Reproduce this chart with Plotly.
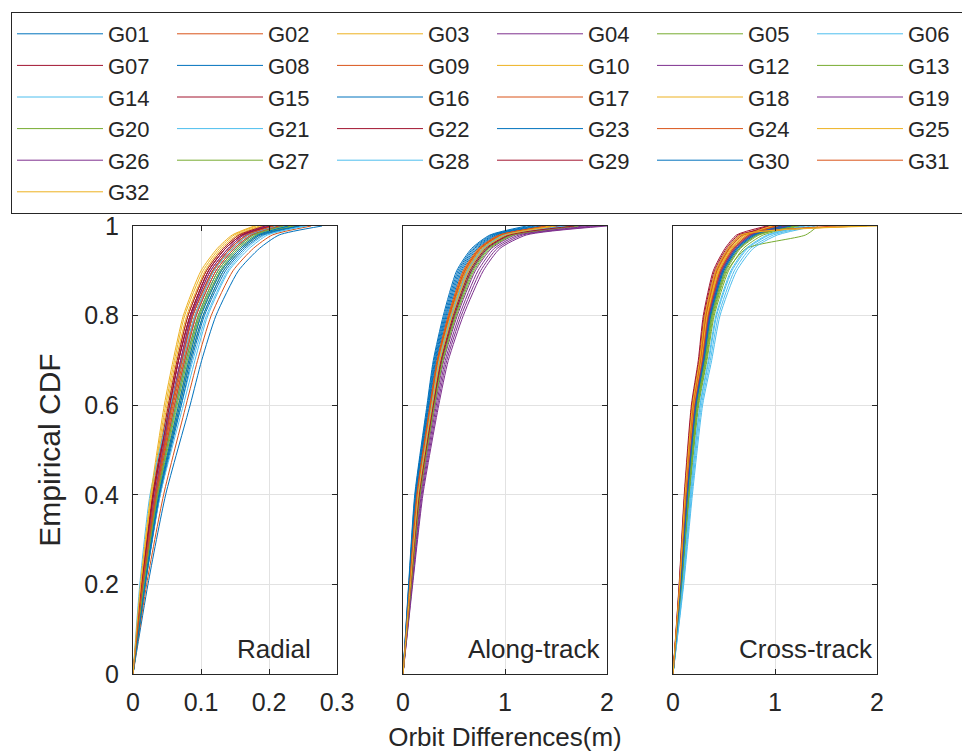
import plotly.graph_objects as go
from plotly.subplots import make_subplots

SATS = ["G01", "G02", "G03", "G04", "G05", "G06", "G07", "G08", "G09", "G10",
        "G12", "G13", "G14", "G15", "G16", "G17", "G18", "G19", "G20", "G21",
        "G22", "G23", "G24", "G25", "G26", "G27", "G28", "G29", "G30", "G31", "G32"]

CDF_LEVELS = [0, 0.2, 0.4, 0.6, 0.7, 0.8, 0.9, 0.95, 0.98, 1.0]

# Orbit difference (m) reached at each CDF level, one row per satellite
RADIAL_X = [
    [0, .022, .048, .084, .101, .122, .155, .186, .215, .278],  # G01
    [0, .020, .045, .078, .095, .115, .147, .177, .205, .262],  # G02
    [0, .015, .034, .059, .074, .091, .119, .146, .170, .224],  # G03
    [0, .013, .030, .054, .067, .084, .111, .136, .160, .196],  # G04
    [0, .017, .038, .067, .082, .100, .130, .158, .184, .241],  # G05
    [0, .016, .037, .071, .088, .108, .139, .167, .194, .256],  # G06
    [0, .014, .032, .056, .070, .086, .114, .140, .163, .205],  # G07
    [0, .016, .036, .063, .078, .096, .125, .152, .177, .230],  # G08
    [0, .014, .033, .057, .072, .088, .117, .143, .167, .212],  # G09
    [0, .013, .029, .052, .065, .081, .108, .133, .156, .190],  # G10
    [0, .015, .035, .061, .076, .093, .122, .149, .174, .219],  # G12
    [0, .018, .039, .069, .084, .103, .133, .161, .187, .236],  # G13
    [0, .014, .034, .064, .080, .098, .128, .155, .181, .226],  # G14
    [0, .013, .030, .054, .067, .084, .111, .136, .160, .201],  # G15
    [0, .018, .040, .071, .086, .105, .136, .164, .191, .247],  # G16
    [0, .015, .034, .059, .074, .091, .119, .146, .170, .208],  # G17
    [0, .012, .028, .050, .063, .079, .106, .130, .153, .186],  # G18
    [0, .014, .033, .057, .072, .088, .117, .143, .167, .215],  # G19
    [0, .017, .037, .065, .080, .098, .128, .155, .181, .232],  # G20
    [0, .017, .040, .074, .091, .110, .141, .171, .198, .252],  # G21
    [0, .013, .029, .052, .065, .081, .108, .133, .156, .194],  # G22
    [0, .017, .038, .067, .082, .100, .130, .158, .184, .228],  # G23
    [0, .015, .035, .061, .076, .093, .122, .149, .174, .214],  # G24
    [0, .012, .027, .048, .061, .076, .103, .127, .149, .181],  # G25
    [0, .014, .032, .056, .070, .086, .114, .140, .163, .199],  # G26
    [0, .016, .036, .063, .078, .096, .125, .152, .177, .221],  # G27
    [0, .010, .025, .055, .073, .091, .119, .146, .170, .210],  # G28
    [0, .013, .030, .054, .067, .084, .111, .136, .160, .203],  # G29
    [0, .018, .039, .069, .084, .103, .133, .161, .187, .244],  # G30
    [0, .014, .033, .057, .072, .088, .117, .143, .167, .207],  # G31
    [0, .011, .026, .046, .059, .074, .100, .124, .146, .178],  # G32
]

ALONG_X = [
    [0, .061, .127, .252, .319, .424, .565, .715, .907, 1.38],  # G01
    [0, .069, .143, .275, .348, .464, .617, .770, .978, 1.52],  # G02
    [0, .067, .139, .270, .341, .454, .604, .756, .960, 1.46],  # G03
    [0, .087, .179, .327, .415, .552, .735, .895, 1.139, 1.86],  # G04
    [0, .077, .159, .298, .378, .503, .670, .826, 1.049, 1.62],  # G05
    [0, .079, .163, .304, .385, .513, .683, .840, 1.067, 1.70],  # G06
    [0, .073, .151, .287, .363, .483, .643, .798, 1.014, 1.55],  # G07
    [0, .057, .119, .241, .304, .405, .539, .687, .871, 1.26],  # G08
    [0, .071, .147, .281, .356, .473, .630, .784, .996, 1.49],  # G09
    [0, .065, .135, .264, .334, .444, .591, .743, .942, 1.43],  # G10
    [0, .083, .171, .316, .400, .532, .709, .868, 1.103, 1.78],  # G12
    [0, .075, .155, .293, .371, .493, .657, .812, 1.032, 1.58],  # G13
    [0, .077, .159, .298, .378, .503, .670, .826, 1.049, 1.66],  # G14
    [0, .069, .143, .275, .348, .464, .617, .770, .978, 1.47],  # G15
    [0, .059, .123, .247, .312, .415, .552, .701, .889, 1.30],  # G16
    [0, .067, .139, .270, .341, .454, .604, .756, .960, 1.51],  # G17
    [0, .071, .147, .281, .356, .473, .630, .784, .996, 1.56],  # G18
    [0, .091, .187, .339, .429, .571, .761, .923, 1.174, 1.94],  # G19
    [0, .079, .163, .304, .385, .513, .683, .840, 1.067, 1.64],  # G20
    [0, .073, .151, .287, .363, .483, .643, .798, 1.014, 1.60],  # G21
    [0, .075, .155, .293, .371, .493, .657, .812, 1.032, 1.54],  # G22
    [0, .063, .131, .258, .326, .434, .578, .729, .924, 1.35],  # G23
    [0, .065, .135, .264, .334, .444, .591, .743, .942, 1.48],  # G24
    [0, .069, .143, .275, .348, .464, .617, .770, .978, 1.44],  # G25
    [0, .095, .195, .350, .444, .591, .787, .951, 1.210, 2.00],  # G26
    [0, .081, .167, .310, .393, .522, .696, .854, 1.085, 1.72],  # G27
    [0, .071, .147, .281, .356, .473, .630, .784, .996, 1.59],  # G28
    [0, .077, .159, .298, .378, .503, .670, .826, 1.049, 1.68],  # G29
    [0, .055, .115, .235, .297, .395, .526, .673, .853, 1.21],  # G30
    [0, .067, .139, .270, .341, .454, .604, .756, .960, 1.40],  # G31
    [0, .073, .151, .287, .363, .483, .643, .798, 1.014, 1.50],  # G32
]

CROSS_X = [
    [0, .078, .142, .224, .300, .363, .487, .621, .784, 1.10],  # G01
    [0, .071, .130, .208, .281, .338, .452, .579, .724, 1.02],  # G02
    [0, .069, .126, .202, .274, .330, .441, .565, .704, .96],   # G03
    [0, .074, .134, .213, .287, .346, .464, .593, .744, 1.05],  # G04
    [0, .089, .162, .252, .333, .404, .544, .690, .884, 1.25],  # G05
    [0, .101, .182, .279, .366, .445, .601, .759, .984, 1.35],  # G06
    [0, .062, .114, .186, .255, .305, .406, .524, .644, 1.15],  # G07
    [0, .080, .146, .230, .307, .371, .498, .635, .804, 1.12],  # G08
    [0, .074, .134, .213, .287, .346, .464, .593, .744, .99],   # G09
    [0, .069, .126, .202, .274, .330, .441, .565, .704, 1.08],  # G10
    [0, .076, .138, .219, .294, .354, .475, .607, .764, 1.06],  # G12
    [0, .087, .158, .246, .327, .395, .532, .720, 1.30, 1.42],  # G13
    [0, .094, .170, .263, .346, .420, .567, .718, .924, 1.28],  # G14
    [0, .067, .122, .197, .268, .322, .429, .552, .684, .94],   # G15
    [0, .083, .150, .235, .314, .379, .510, .649, .824, 1.18],  # G16
    [0, .076, .138, .219, .294, .354, .475, .607, .764, 1.03],  # G17
    [0, .071, .130, .208, .281, .338, .452, .579, .724, .98],   # G18
    [0, .078, .142, .224, .300, .363, .487, .621, .784, 1.14],  # G19
    [0, .085, .154, .241, .320, .387, .521, .662, .844, 1.20],  # G20
    [0, .105, .190, .290, .379, .461, .624, .787, 1.024, 1.40],  # G21
    [0, .065, .118, .191, .261, .313, .418, .538, .664, 1.85],  # G22
    [0, .080, .146, .230, .307, .371, .498, .635, .804, 1.16],  # G23
    [0, .074, .134, .213, .287, .346, .464, .593, .744, 1.01],  # G24
    [0, .067, .122, .197, .268, .322, .429, .552, .684, 2.00],  # G25
    [0, .076, .138, .219, .294, .354, .475, .607, .764, 1.09],  # G26
    [0, .083, .150, .235, .314, .379, .510, .649, .824, 1.22],  # G27
    [0, .096, .174, .268, .353, .428, .578, .732, .944, 1.30],  # G28
    [0, .060, .110, .180, .248, .297, .395, .510, .624, .92],   # G29
    [0, .078, .142, .224, .300, .363, .487, .621, .784, 1.07],  # G30
    [0, .067, .122, .197, .268, .322, .429, .552, .684, 1.60],  # G31
    [0, .065, .118, .191, .261, .313, .418, .538, .664, 1.90],  # G32
]

PANEL_NAMES = ["Radial", "Along-track", "Cross-track"]
PANEL_LABEL_X = [0.15, 0.62, 0.63]
X_RANGES = [[0, 0.3], [0, 2], [0, 2]]
X_TICKS = [[0, 0.1, 0.2, 0.3], [0, 1, 2], [0, 1, 2]]
Y_TICKS = [0, 0.2, 0.4, 0.6, 0.8, 1]

COLORS = ["#0072BD", "#D95319", "#EDB120", "#7E2F8E", "#77AC30", "#4DBEEE", "#A2142F"]
FONT = "Liberation Sans, Arial, Helvetica, sans-serif"
INK = "#262626"

# The page body adds an 8px margin, so the figure is drawn 8px smaller and
# reference page pixels are shifted by that amount.
PAGE_PAD = 8
W, H = 970 - PAGE_PAD, 754 - PAGE_PAD


def px_x(p):
    return (p - PAGE_PAD) / W


def px_y(p):
    return 1 - (p - PAGE_PAD) / H


X_DOMAINS = [[px_x(133), px_x(337)], [px_x(403), px_x(607)], [px_x(673), px_x(877)]]
Y_DOMAIN = [px_y(674), px_y(226)]

fig = make_subplots(rows=1, cols=3)

for col, comp in enumerate([RADIAL_X, ALONG_X, CROSS_X], start=1):
    for i, (sat, xs) in enumerate(zip(SATS, comp)):
        fig.add_trace(
            go.Scatter(
                x=xs, y=CDF_LEVELS, mode="lines", name=sat, legendgroup=sat,
                showlegend=(col == 1),
                line=dict(color=COLORS[i % len(COLORS)], width=1,
                          shape="spline", smoothing=0.6),
            ),
            row=1, col=col,
        )

for k in range(3):
    xa = "xaxis" if k == 0 else f"xaxis{k + 1}"
    ya = "yaxis" if k == 0 else f"yaxis{k + 1}"
    fig.layout[xa].update(
        domain=X_DOMAINS[k], range=X_RANGES[k], tickvals=X_TICKS[k],
        showgrid=True, gridcolor="#e2e2e2", gridwidth=1, zeroline=False,
        showline=True, linecolor=INK, linewidth=1, mirror="ticks",
        ticks="inside", ticklen=5, tickcolor=INK,
        tickfont=dict(size=25, color=INK, family=FONT),
        ticklabelstandoff=6,
    )
    fig.layout[ya].update(
        domain=Y_DOMAIN, range=[0, 1], tickvals=Y_TICKS,
        showgrid=True, gridcolor="#e2e2e2", gridwidth=1, zeroline=False,
        showline=True, linecolor=INK, linewidth=1, mirror="ticks",
        ticks="inside", ticklen=5, tickcolor=INK,
        showticklabels=(k == 0),
        tickfont=dict(size=25, color=INK, family=FONT),
        ticklabelstandoff=8,
    )
    fig.add_annotation(
        x=PANEL_LABEL_X[k], y=0.055, xref=f"x{'' if k == 0 else k + 1}",
        yref=f"y{'' if k == 0 else k + 1}", text=PANEL_NAMES[k],
        showarrow=False, xanchor="left", yanchor="middle",
        font=dict(size=26, color=INK, family=FONT),
    )

fig.layout.yaxis.title = dict(text="Empirical CDF", standoff=14,
                              font=dict(size=30, color=INK, family=FONT))
fig.layout.xaxis2.title = dict(text="Orbit Differences(m)", standoff=12,
                               font=dict(size=26, color=INK, family=FONT))

fig.update_layout(
    width=W, height=H,
    margin=dict(l=0, r=0, t=0, b=0, autoexpand=False),
    paper_bgcolor="white", plot_bgcolor="white",
    font=dict(family=FONT, color=INK),
    showlegend=True,
    legend=dict(
        orientation="h", x=px_x(11), y=px_y(12), xanchor="left", yanchor="top",
        itemwidth=86, entrywidth=59, entrywidthmode="pixels", traceorder="normal",
        bordercolor=INK, borderwidth=1, bgcolor="white",
        font=dict(size=22, color=INK, family=FONT),
    ),
)

fig.write_html("out.html")
